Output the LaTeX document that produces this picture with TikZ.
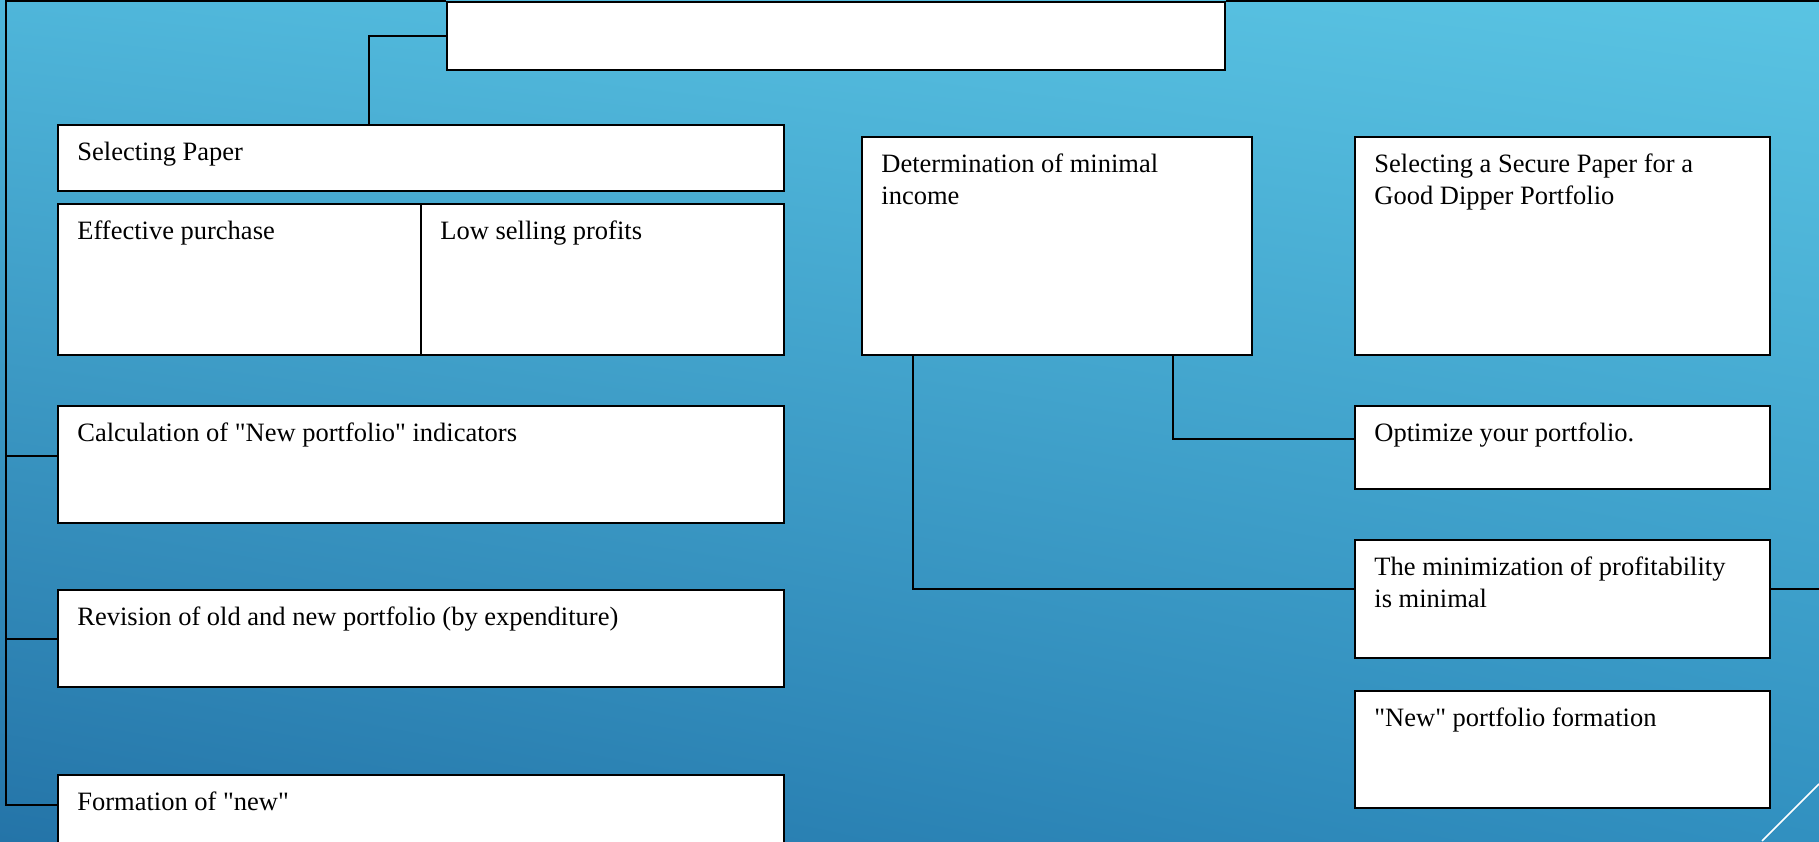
\documentclass[tikz,border=0pt]{standalone}
\usepackage{fontspec}
\setmainfont{Liberation Serif}[Ligatures=TeXOff]
\usetikzlibrary{calc,shadings}
\definecolor{bgTL}{HTML}{4FB6DA}
\definecolor{bgTR}{HTML}{5AC4E3}
\definecolor{bgBL}{HTML}{2474A8}
\definecolor{bgBR}{HTML}{3190C0}
\begin{document}
\begin{tikzpicture}[x=0.5pt,y=-0.5pt,
  box/.style={draw=black, fill=white, line width=1pt, inner sep=0pt, anchor=north west},
  txt/.style={anchor=north west, inner sep=0pt, align=left, font=\fontsize{13.25}{16}\selectfont},
  conn/.style={draw=black, line width=1pt},
  deco/.style={draw=white, line width=0.8pt}]
\useasboundingbox (0,0) rectangle (1819,841);
\clip (0,0) rectangle (1819,841);
\shade[upper left=bgTL, upper right=bgTR, lower left=bgBL, lower right=bgBR] (0,0) rectangle (1819,841);

% connectors' fixed ends
\coordinate (tl) at (5.8,1);
\coordinate (tr) at (1819,1);
\coordinate (rr) at (1819,589);

% boxes
\node[box, minimum width=389.25pt, minimum height=33.75pt] (title) at (445.5,1) {};
\node[box, minimum width=363pt, minimum height=33pt] (sel) at (57,124) {};
\node[box, minimum width=181.5pt, minimum height=75.5pt] (eff) at (57,203) {};
\node[box, minimum width=181.5pt, minimum height=75.5pt] (low) at (420,203) {};
\node[box, minimum width=363pt, minimum height=58.5pt] (calc) at (57,405) {};
\node[box, minimum width=363pt, minimum height=48.5pt] (rev) at (57,589) {};
\node[box, minimum width=363pt, minimum height=50pt] (form) at (57,774) {};
\node[box, minimum width=195pt, minimum height=109pt] (det) at (861,136) {};
\node[box, minimum width=207.5pt, minimum height=109pt] (sec) at (1354,136) {};
\node[box, minimum width=207.5pt, minimum height=41.5pt] (opt) at (1354,405) {};
\node[box, minimum width=207.5pt, minimum height=59pt] (min) at (1354,539) {};
\node[box, minimum width=207.5pt, minimum height=58.5pt] (new) at (1354,690) {};

% connectors
\path ($(calc.north west)+(0,51)$) coordinate (c1);
\path ($(rev.north west)+(0,50)$) coordinate (c2);
\path ($(form.north west)+(0,31)$) coordinate (c3);
\draw[conn] (title.north west) -- (tl) |- (c3);
\draw[conn] (title.north east) -- (tr);
\draw[conn] (c1) -- (c1 -| tl);
\draw[conn] (c2) -- (c2 -| tl);
\draw[conn] ($(title.north west)+(0,35)$) -| ($(sel.north west)+(312,0)$);
\draw[conn] ($(det.south west)+(52,0)$) |- ($(min.north west)+(0,50)$);
\draw[conn] ($(det.south west)+(312,0)$) |- ($(opt.north west)+(0,33.5)$);
\draw[conn] ($(min.north east)+(0,50)$) -- (rr);

% texts
\node[txt] (selT) at ($(sel.north west)+(20,13.6)$) {\strut Selecting Paper};
\node[txt] (effT) at ($(eff.north west)+(20,13.6)$) {\strut Effective purchase};
\node[txt] (lowT) at ($(low.north west)+(20,13.6)$) {\strut Low selling profits};
\node[txt] (calcT) at ($(calc.north west)+(20,13.6)$) {\strut Calculation of "New portfolio" indicators};
\node[txt] (revT) at ($(rev.north west)+(20,13.6)$) {\strut Revision of old and new portfolio (by expenditure)};
\node[txt] (formT) at ($(form.north west)+(20,13.6)$) {\strut Formation of "new"};
\node[txt] (detT) at ($(det.north west)+(20,13.6)$) {\strut Determination of minimal\\income};
\node[txt] (secT) at ($(sec.north west)+(20,13.6)$) {\strut Selecting a Secure Paper for a\\Good Dipper Portfolio};
\node[txt] (optT) at ($(opt.north west)+(20,13.6)$) {\strut Optimize your portfolio.};
\node[txt] (minT) at ($(min.north west)+(20,13.6)$) {\strut The minimization of profitability\\is minimal};
\node[txt] (newT) at ($(new.north west)+(20,13.6)$) {\strut "New" portfolio formation};

% decorative corner line
\coordinate (d1) at (1819,784);
\coordinate (d2) at (1762,841);
\draw[deco] (d1) -- (d2);
\end{tikzpicture}
\end{document}
